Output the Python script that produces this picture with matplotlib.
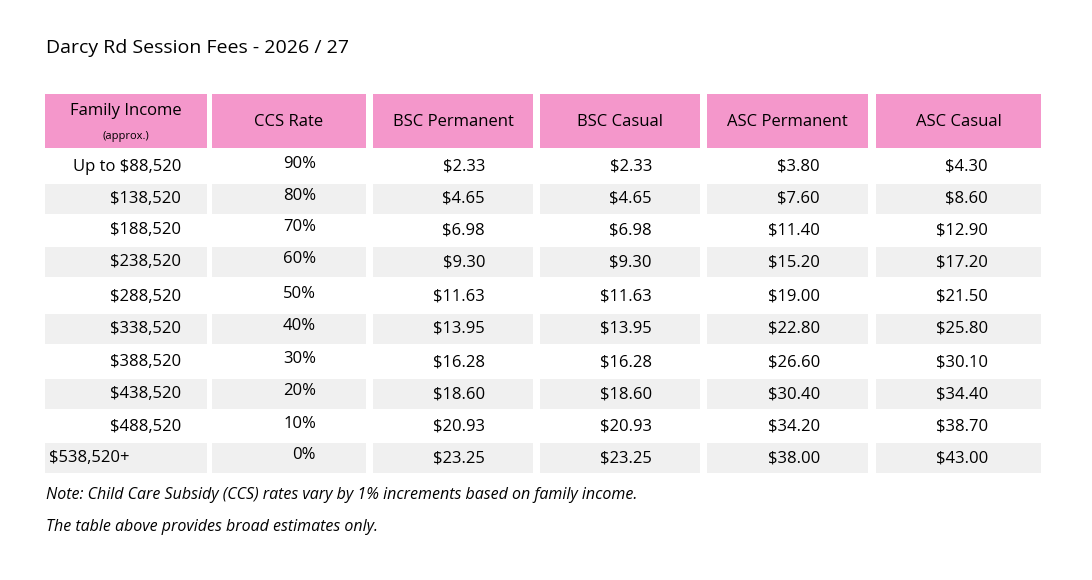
import matplotlib
matplotlib.use("Agg")
import matplotlib.pyplot as plt
from matplotlib.patches import Rectangle

plt.rcParams["font.family"] = ["Open Sans", "DejaVu Sans"]

title = "Darcy Rd Session Fees - 2026 / 27"
headers = ["Family Income", "CCS Rate", "BSC Permanent", "BSC Casual", "ASC Permanent", "ASC Casual"]
incomes = ["Up to $88,520", "$138,520", "$188,520", "$238,520", "$288,520",
           "$338,520", "$388,520", "$438,520", "$488,520", "$538,520+"]
ccs_rate = [90, 80, 70, 60, 50, 40, 30, 20, 10, 0]
bsc_perm = [2.33, 4.65, 6.98, 9.30, 11.63, 13.95, 16.28, 18.60, 20.93, 23.25]
bsc_casual = [2.33, 4.65, 6.98, 9.30, 11.63, 13.95, 16.28, 18.60, 20.93, 23.25]
asc_perm = [3.80, 7.60, 11.40, 15.20, 19.00, 22.80, 26.60, 30.40, 34.20, 38.00]
asc_casual = [4.30, 8.60, 12.90, 17.20, 21.50, 25.80, 30.10, 34.40, 38.70, 43.00]
notes = ["Note: Child Care Subsidy (CCS) rates vary by 1% increments based on family income.",
         "The table above provides broad estimates only."]

W, H = 1092, 580
fig = plt.figure(figsize=(W / 100, H / 100), dpi=100)
ax = fig.add_axes([0, 0, 1, 1])
ax.set_xlim(0, W); ax.set_ylim(H, 0); ax.axis("off")

pink, grey = "#f497cb", "#f0f0f0"
cols = [(45, 207), (212, 366), (373, 533), (540, 700), (707, 868), (876, 1041)]
right_x = [181, 316, 485, 652, 820, 988]
row_y = [167, 199, 230, 262, 297, 329, 362, 394, 427, 458]
row_h = 30

ax.text(46, 48, title, fontsize=14, va="center", ha="left")

# header
for (x0, x1), h in zip(cols, headers):
    ax.add_patch(Rectangle((x0, 94), x1 - x0, 54, color=pink, lw=0))
    if h == "Family Income":
        ax.text((x0 + x1) / 2, 111, h, fontsize=12, ha="center", va="center")
        ax.text((x0 + x1) / 2, 136, "(approx.)", fontsize=8, ha="center", va="center")
    else:
        ax.text((x0 + x1) / 2, 122, h, fontsize=12, ha="center", va="center")

columns = [incomes,
           [f"{r}%" for r in ccs_rate],
           [f"${v:.2f}" for v in bsc_perm],
           [f"${v:.2f}" for v in bsc_casual],
           [f"${v:.2f}" for v in asc_perm],
           [f"${v:.2f}" for v in asc_casual]]

for i, y in enumerate(row_y):
    if i % 2 == 1:
        for x0, x1 in cols:
            ax.add_patch(Rectangle((x0, y - row_h / 2), x1 - x0, row_h, color=grey, lw=0))
    for j, col in enumerate(columns):
        txt = col[i]
        if j == 0 and i == len(row_y) - 1:
            ax.text(49, y, txt, fontsize=12, ha="left", va="center")
        else:
            ax.text(right_x[j], y - (3 if j == 1 else 0), txt, fontsize=12, ha="right", va="center")

ax.text(46, 495, notes[0], fontsize=11.5, style="italic", ha="left", va="center")
ax.text(46, 527, notes[1], fontsize=11.5, style="italic", ha="left", va="center")

fig.savefig("out.png", dpi=100, facecolor="white")
